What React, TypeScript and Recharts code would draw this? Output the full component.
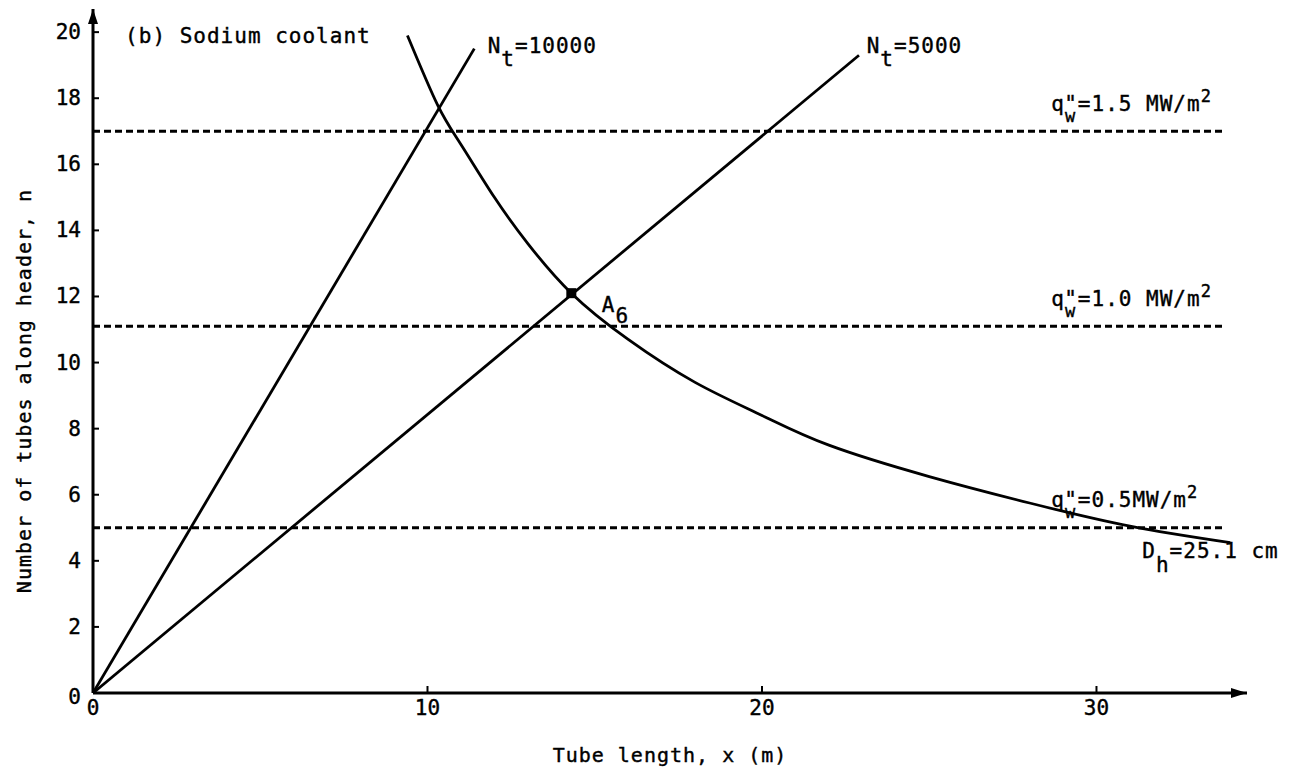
import React from 'react';
import { LineChart, Line, XAxis, YAxis, ReferenceDot, Label } from 'recharts';

const xTicks = [0, 10, 20, 30];
const yTicks = [0, 2, 4, 6, 8, 10, 12, 14, 16, 18, 20];

// N_t = 10000 line
const nt10000X = [0, 11.4];
const nt10000Y = [0, 19.5];
// N_t = 5000 line
const nt5000X = [0, 22.9];
const nt5000Y = [0, 19.3];
// D_h = 25.1 cm curve
const dhX = [9.4, 10.3, 11, 12, 13, 14.3, 16, 18, 20, 22, 25, 28, 31, 34];
const dhY = [19.9, 17.8, 16.6, 15.0, 13.6, 12.1, 10.7, 9.4, 8.4, 7.5, 6.55, 5.75, 5.05, 4.55];
// heat flux levels q"_w
const qLevels = [17, 11.1, 5.0];
const qSpanX = [0, 33.8];
const qLabels = ['1.5 MW/m', '1.0 MW/m', '0.5MW/m'];
// design point A6
const pointA6 = { x: 14.3, y: 12.1 };

const toRows = (xs: number[], ys: number[]) => xs.map((x, i) => ({ x, y: ys[i] }));

const FONT = '"DejaVu Sans Mono", "Liberation Mono", monospace';
const FS = 21;
const LS = 1;

const textProps = {
  fontFamily: FONT,
  fontSize: FS,
  fill: '#000',
  letterSpacing: LS,
  stroke: '#000',
  strokeWidth: 0.4,
};

const XTick = (p: any) => {
  const { x, y, payload } = p;
  return (
    <g>
      {payload.value !== 0 && (
        <line x1={x} x2={x} y1={y} y2={y - 7} stroke="#000" strokeWidth={2} />
      )}
      <text x={x} y={y + 22} textAnchor="middle" {...textProps} letterSpacing={0}>
        {payload.value}
      </text>
    </g>
  );
};

const YTick = (p: any) => {
  const { x, y, payload } = p;
  return (
    <g>
      {payload.value !== 0 && (
        <line x1={x} x2={x + 6} y1={y} y2={y} stroke="#000" strokeWidth={2} />
      )}
      <text x={x - 12} y={y + 7 + (payload.value === 0 ? 4 : 0)} textAnchor="end" {...textProps} letterSpacing={0}>
        {payload.value}
      </text>
    </g>
  );
};

const txt = (content: (cx: number, cy: number) => React.ReactNode) => (p: any) => (
  <g>{content(p.cx, p.cy)}</g>
);

const QLabel = (cx: number, cy: number, val: string) => (
  <text x={cx} y={cy} {...textProps}>
    q
    <tspan dy={11} fontSize={17}>w</tspan>
    <tspan dx={-12} dy={-11}>"={val}</tspan>
    <tspan dy={-9} fontSize={17}>2</tspan>
  </text>
);

export default function App() {
  return (
    <div style={{ position: 'absolute', left: 0, top: 0, background: '#fff' }}>
      <LineChart width={1293} height={767} margin={{ top: 9, right: 46, bottom: 0, left: 0 }}>
        <XAxis
          type="number"
          dataKey="x"
          domain={[0, 34.5]}
          ticks={xTicks}
          allowDataOverflow
          height={74}
          tickSize={0}
          tickMargin={0}
          tickLine={false}
          tick={(p: any) => <XTick {...p} />}
          axisLine={{ stroke: '#000', strokeWidth: 3 }}
        >
          <Label
            content={(p: any) => {
              const vb = p.viewBox;
              return (
                <text x={vb.x + vb.width / 2} y={vb.y + 69} textAnchor="middle" {...textProps} fontSize={20}>
                  Tube length, x  (m)
                </text>
              );
            }}
          />
        </XAxis>
        <YAxis
          type="number"
          domain={[0, 20.7]}
          ticks={yTicks}
          allowDataOverflow
          width={93}
          tickSize={0}
          tickMargin={0}
          tickLine={false}
          tick={(p: any) => <YTick {...p} />}
          axisLine={{ stroke: '#000', strokeWidth: 3 }}
        >
          <Label
            content={(p: any) => {
              const vb = p.viewBox;
              const cx = vb.x + 24;
              const cy = vb.y + vb.height / 2 + 40;
              return (
                <text x={cx} y={cy} transform={`rotate(-90 ${cx} ${cy})`} textAnchor="middle" dominantBaseline="central" {...textProps} fontSize={20}>
                  Number of tubes along header, n
                </text>
              );
            }}
          />
        </YAxis>

        {qLevels.map((q, i) => (
          <Line
            key={'q' + i}
            data={toRows(qSpanX, [q, q])}
            dataKey="y"
            stroke="#000"
            strokeWidth={3}
            strokeDasharray="7 4"
            dot={false}
            isAnimationActive={false}
          />
        ))}
        <Line data={toRows(nt10000X, nt10000Y)} dataKey="y" stroke="#000" strokeWidth={2.8} dot={false} isAnimationActive={false} />
        <Line data={toRows(nt5000X, nt5000Y)} dataKey="y" stroke="#000" strokeWidth={2.8} dot={false} isAnimationActive={false} />
        <Line data={toRows(dhX, dhY)} dataKey="y" type="natural" stroke="#000" strokeWidth={2.8} dot={false} isAnimationActive={false} />

        <ReferenceDot
          x={pointA6.x}
          y={pointA6.y}
          r={0}
          ifOverflow="visible"
          shape={txt((cx, cy) => <rect x={cx - 5} y={cy - 5} width={10} height={10} fill="#000" />)}
        />
        {/* axis arrowheads */}
        <ReferenceDot
          x={34.5}
          y={0}
          r={0}
          ifOverflow="visible"
          shape={txt((cx, cy) => <path d={`M${cx - 16},${cy - 5} L${cx},${cy} L${cx - 16},${cy + 5} Z`} fill="#000" />)}
        />
        <ReferenceDot
          x={0}
          y={20.7}
          r={0}
          ifOverflow="visible"
          shape={txt((cx, cy) => <path d={`M${cx - 5},${cy + 15} L${cx},${cy} L${cx + 5},${cy + 15} Z`} fill="#000" />)}
        />

        {/* annotations */}
        <ReferenceDot
          x={0.96}
          y={19.67}
          r={0}
          ifOverflow="visible"
          shape={txt((cx, cy) => <text x={cx} y={cy} {...textProps}>(b) Sodium coolant</text>)}
        />
        <ReferenceDot
          x={11.8}
          y={19.37}
          r={0}
          ifOverflow="visible"
          shape={txt((cx, cy) => (
            <text x={cx} y={cy} {...textProps}>
              N<tspan dy={13}>t</tspan><tspan dy={-13}>=10000</tspan>
            </text>
          ))}
        />
        <ReferenceDot
          x={23.13}
          y={19.37}
          r={0}
          ifOverflow="visible"
          shape={txt((cx, cy) => (
            <text x={cx} y={cy} {...textProps}>
              N<tspan dy={13}>t</tspan><tspan dy={-13}>=5000</tspan>
            </text>
          ))}
        />
        {qLevels.map((q, i) => (
          <ReferenceDot
            key={'ql' + i}
            x={28.65}
            y={q + 0.62}
            r={0}
            ifOverflow="visible"
            shape={txt((cx, cy) => QLabel(cx, cy, qLabels[i]))}
          />
        ))}
        <ReferenceDot
          x={31.37}
          y={4.08}
          r={0}
          ifOverflow="visible"
          shape={txt((cx, cy) => (
            <text x={cx} y={cy} {...textProps}>
              D<tspan dy={14}>h</tspan><tspan dy={-14}>=25.1 cm</tspan>
            </text>
          ))}
        />
        <ReferenceDot
          x={15.21}
          y={11.53}
          r={0}
          ifOverflow="visible"
          shape={txt((cx, cy) => (
            <text x={cx} y={cy} {...textProps}>
              A<tspan dy={11}>6</tspan>
            </text>
          ))}
        />
      </LineChart>
    </div>
  );
}
